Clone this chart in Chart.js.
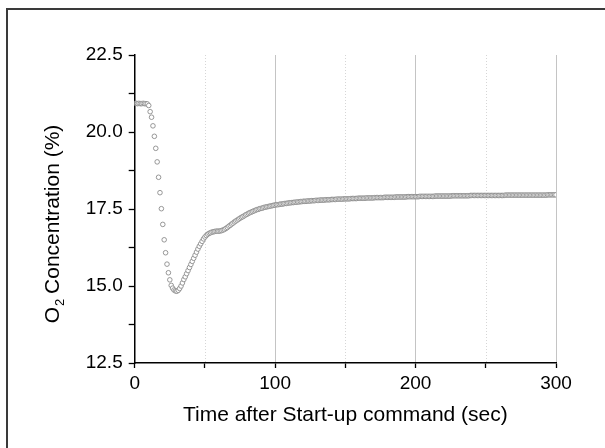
<!DOCTYPE html>
<html><head><meta charset="utf-8">
<script src="https://cdn.jsdelivr.net/npm/chart.js@4.4.1/dist/chart.umd.min.js"></script>
<style>html,body{margin:0;padding:0;background:#fff}#wrap{width:605px;height:448px;position:relative}</style>
</head><body><div id="wrap"><canvas id="c" width="605" height="448"></canvas></div>
<script>
// O2 concentration (%) sampled once per second, t = 0 .. 300 s
const o2Percent = [
20.93,20.93,20.92,20.93,20.92,20.92,20.93,20.92,20.92,20.91,
20.86,20.66,20.48,20.20,19.86,19.47,19.03,18.53,18.03,17.51,
17.00,16.50,16.08,15.71,15.43,15.20,15.02,14.93,14.87,14.84,
14.83,14.86,14.92,15.00,15.10,15.21,15.30,15.40,15.50,15.60,
15.70,15.80,15.90,16.00,16.10,16.20,16.29,16.37,16.45,16.53,
16.59,16.64,16.68,16.71,16.73,16.75,16.76,16.77,16.78,16.78,
16.78,16.79,16.80,16.82,16.84,16.87,16.90,16.94,16.97,17.01,
17.04,17.08,17.11,17.14,17.17,17.20,17.23,17.25,17.28,17.31,
17.33,17.36,17.38,17.40,17.42,17.44,17.46,17.48,17.49,17.51,
17.52,17.53,17.55,17.56,17.57,17.58,17.59,17.60,17.61,17.62,
17.63,17.64,17.64,17.65,17.66,17.66,17.67,17.68,17.68,17.69,
17.70,17.70,17.71,17.71,17.72,17.72,17.73,17.73,17.74,17.74,
17.75,17.75,17.75,17.76,17.76,17.76,17.77,17.77,17.77,17.78,
17.78,17.78,17.79,17.79,17.79,17.79,17.80,17.80,17.80,17.80,
17.81,17.81,17.81,17.81,17.82,17.82,17.82,17.82,17.82,17.83,
17.83,17.83,17.83,17.83,17.84,17.84,17.84,17.84,17.84,17.85,
17.85,17.85,17.85,17.85,17.85,17.86,17.86,17.86,17.86,17.86,
17.86,17.87,17.87,17.87,17.87,17.87,17.87,17.87,17.88,17.88,
17.88,17.88,17.88,17.88,17.88,17.88,17.89,17.89,17.89,17.89,
17.89,17.89,17.89,17.89,17.90,17.90,17.90,17.90,17.90,17.90,
17.90,17.90,17.90,17.91,17.91,17.91,17.91,17.91,17.91,17.91,
17.91,17.91,17.91,17.91,17.92,17.92,17.92,17.92,17.92,17.92,
17.92,17.92,17.92,17.92,17.92,17.92,17.93,17.93,17.93,17.93,
17.93,17.93,17.93,17.93,17.93,17.93,17.93,17.93,17.93,17.94,
17.94,17.94,17.94,17.94,17.94,17.94,17.94,17.94,17.94,17.94,
17.94,17.94,17.94,17.94,17.94,17.94,17.94,17.94,17.94,17.94,
17.94,17.94,17.94,17.94,17.95,17.95,17.95,17.95,17.95,17.95,
17.95,17.95,17.95,17.95,17.95,17.95,17.95,17.95,17.95,17.95,
17.95,17.95,17.95,17.95,17.95,17.95,17.95,17.95,17.95,17.95,
17.95,17.95,17.95,17.95,17.96,17.96,17.96,17.96,17.96,17.96,
17.96
];
const sampleIntervalSec = 1;
const timeSec = o2Percent.map((_, i) => i * sampleIntervalSec);

const xMajorTicks = [0, 100, 200, 300];
const xMinorTicks = [50, 150, 250];
const yMajorTicks = [12.5, 15.0, 17.5, 20.0, 22.5];
const xTitle = 'Time after Start-up command (sec)';
const yTitleMain = 'O', yTitleSub = '2', yTitleRest = ' Concentration (%)';

const FONT = '"Liberation Sans", Arial, Helvetica, sans-serif';

const points = timeSec.map((t, i) => ({ x: t, y: o2Percent[i] }));

const decor = {
  id: 'decor',
  beforeDraw(chart) {
    const ctx = chart.ctx;
    ctx.save();
    ctx.fillStyle = '#fff';
    ctx.fillRect(0, 0, chart.width, chart.height);
    ctx.strokeStyle = '#3a3a3a';
    ctx.lineWidth = 2;
    ctx.beginPath();
    ctx.moveTo(7, chart.height);
    ctx.lineTo(7, 9);
    ctx.lineTo(chart.width, 9);
    ctx.stroke();
    ctx.restore();
  },
  beforeDatasetsDraw(chart) {
    const ctx = chart.ctx, xs = chart.scales.x, a = chart.chartArea;
    ctx.save();
    ctx.strokeStyle = '#d6d6d6';
    ctx.lineWidth = 1;
    ctx.setLineDash([1, 2]);
    xMinorTicks.forEach(v => {
      const px = Math.round(xs.getPixelForValue(v)) + 0.5;
      ctx.beginPath();
      ctx.moveTo(px, a.top);
      ctx.lineTo(px, a.bottom);
      ctx.stroke();
    });
    ctx.restore();
  },
  afterDraw(chart) {
    const ctx = chart.ctx, a = chart.chartArea;
    ctx.save();
    ctx.fillStyle = '#000';
    ctx.font = '21px ' + FONT;
    ctx.textAlign = 'center';
    ctx.textBaseline = 'alphabetic';
    ctx.fillText(xTitle, (a.left + a.right) / 2, 421);
    // y title with subscript
    ctx.textAlign = 'left';
    ctx.font = '21px ' + FONT;
    const wO = ctx.measureText(yTitleMain).width;
    ctx.font = '13px ' + FONT;
    const wS = ctx.measureText(yTitleSub).width;
    ctx.font = '21px ' + FONT;
    const wR = ctx.measureText(yTitleRest).width;
    const total = wO + wS + wR;
    const cy = 224;
    ctx.translate(59, cy + total / 2);
    ctx.rotate(-Math.PI / 2);
    ctx.fillText(yTitleMain, 0, 0);
    ctx.font = '13px ' + FONT;
    ctx.fillText(yTitleSub, wO + 1, 5);
    ctx.font = '21px ' + FONT;
    ctx.fillText(yTitleRest, wO + wS, 0);
    ctx.restore();
  }
};

new Chart(document.getElementById('c'), {
  type: 'scatter',
  data: {
    datasets: [{
      data: points,
      pointStyle: 'circle',
      pointRadius: 2.3,
      pointBorderWidth: 0.9,
      pointBorderColor: '#8c8c8c',
      pointBackgroundColor: '#ffffff',
      pointHoverRadius: 2.3,
      showLine: false
    }]
  },
  options: {
    responsive: false,
    animation: false,
    devicePixelRatio: 1,
    layout: { padding: { left: 0, right: 49, top: 55, bottom: 0 } },
    plugins: { legend: { display: false }, tooltip: { enabled: false } },
    scales: {
      x: {
        type: 'linear', min: 0, max: 300,
        afterFit: s => { s.height = 85; },
        ticks: {
          stepSize: 50, autoSkip: false, maxRotation: 0, padding: 4,
          color: '#000', font: { family: FONT, size: 19 },
          callback: v => xMajorTicks.includes(v) ? String(v) : ''
        },
        grid: {
          color: c => (c.tick && xMajorTicks.includes(c.tick.value) && c.tick.value !== 0) ? '#c4c4c4' : 'rgba(0,0,0,0)',
          lineWidth: 1,
          drawTicks: true, tickLength: 5, tickColor: '#000', tickWidth: 1.3
        },
        border: { display: true, color: '#000', width: 1.5 }
      },
      y: {
        type: 'linear', min: 12.5, max: 22.5,
        afterFit: s => { s.width = 134.7; },
        ticks: {
          stepSize: 1.25, autoSkip: false, padding: 6,
          color: '#000', font: { family: FONT, size: 19 },
          callback: v => yMajorTicks.some(m => Math.abs(m - v) < 1e-6) ? v.toFixed(1) : ''
        },
        grid: {
          drawOnChartArea: false, drawTicks: true, tickLength: 6, tickColor: '#000', tickWidth: 1.3
        },
        border: { display: true, color: '#000', width: 1.5 }
      }
    }
  },
  plugins: [decor]
});
</script>
</body></html>
